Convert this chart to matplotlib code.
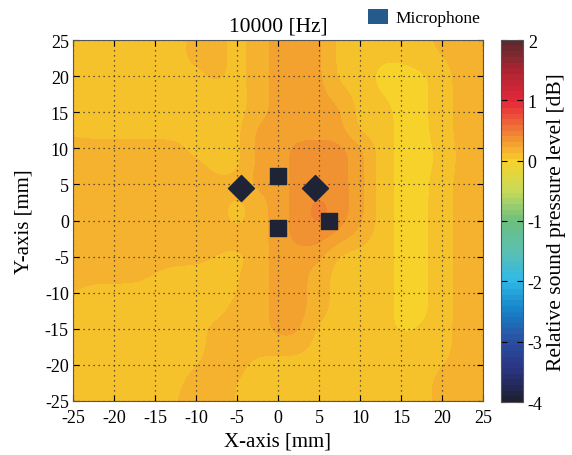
import numpy as np
import matplotlib
matplotlib.use('Agg')
import matplotlib.pyplot as plt
from matplotlib.colors import LinearSegmentedColormap
from matplotlib.patches import Patch

plt.rcParams['font.family'] = ['Liberation Serif', 'DejaVu Serif']
plt.rcParams['axes.unicode_minus'] = False

# grid positions [mm]
x_mm = [-25, -22.5, -20, -17.5, -15, -12.5, -10, -7.5, -5, -2.5, 0,
        2.5, 5, 7.5, 10, 12.5, 15, 17.5, 20, 22.5, 25]
y_mm = [25, 22.5, 20, 17.5, 15, 12.5, 10, 7.5, 5, 2.5, 0,
        -2.5, -5, -7.5, -10, -12.5, -15, -17.5, -20, -22.5, -25]

# relative sound pressure level [dB] (rows = y_mm, cols = x_mm)
spl_db = [
    [.08, .08, .08, .08, .08, .08, .17, .17, .08, .17, .26, .26, .26, .08, .08, .08, .08, .08, .17, .17, .17],
    [.08, .08, .08, .08, .08, .08, .17, .17, .08, .17, .26, .26, .26, .08, .08, .04, .04, .08, .12, .17, .17],
    [.08, .08, .08, .08, .08, .08, .08, .17, .08, .17, .26, .26, .26, .08, .08, .00, .00, .00, .08, .17, .17],
    [.08, .08, .08, .08, .08, .08, .08, .08, .08, .17, .26, .26, .26, .17, .08, .03, .00, .00, .08, .17, .17],
    [.08, .08, .08, .08, .08, .08, .08, .08, .08, .17, .26, .26, .26, .26, .08, .08, .00, .00, .08, .17, .17],
    [.10, .08, .08, .08, .08, .08, .08, .08, .08, .26, .26, .26, .26, .26, .08, .08, .00, .00, .08, .17, .17],
    [.17, .17, .17, .17, .17, .17, .08, .08, .08, .26, .26, .36, .36, .36, .26, .08, .00, .00, .05, .17, .17],
    [.17, .17, .17, .17, .17, .17, .17, .08, .08, .26, .26, .36, .36, .36, .26, .08, .00, .00, .05, .17, .17],
    [.17, .17, .17, .17, .17, .17, .17, .17, .17, .26, .26, .36, .36, .36, .26, .08, .00, .00, .08, .17, .17],
    [.17, .17, .17, .17, .17, .17, .17, .17, .08, .17, .26, .36, .45, .36, .26, .08, .00, .00, .08, .17, .17],
    [.17, .17, .17, .17, .17, .17, .17, .17, .08, .17, .26, .36, .45, .36, .26, .08, .00, .00, .08, .17, .17],
    [.17, .17, .17, .17, .17, .17, .17, .17, .17, .17, .26, .36, .36, .26, .17, .08, .00, .00, .08, .17, .17],
    [.17, .17, .17, .17, .17, .17, .17, .12, .08, .17, .26, .26, .26, .08, .08, .08, .00, .00, .08, .17, .17],
    [.17, .17, .17, .17, .12, .08, .08, .08, .12, .17, .26, .26, .17, .08, .08, .08, .00, .00, .08, .17, .17],
    [.13, .08, .08, .08, .08, .08, .08, .08, .12, .17, .26, .26, .17, .08, .08, .08, .00, .00, .08, .17, .17],
    [.08, .08, .08, .08, .08, .08, .08, .08, .17, .17, .26, .26, .17, .08, .08, .08, .00, .00, .08, .17, .17],
    [.08, .08, .08, .08, .08, .08, .08, .17, .17, .17, .26, .26, .08, .08, .08, .08, .00, .04, .08, .17, .17],
    [.08, .08, .08, .08, .08, .08, .08, .17, .17, .17, .17, .17, .08, .08, .08, .08, .08, .08, .08, .17, .17],
    [.08, .08, .08, .08, .08, .08, .12, .17, .17, .08, .08, .08, .08, .08, .08, .08, .08, .08, .12, .17, .17],
    [.08, .08, .08, .08, .08, .10, .17, .17, .12, .08, .08, .08, .08, .08, .08, .08, .08, .08, .17, .17, .17],
    [.08, .08, .08, .08, .08, .12, .17, .17, .12, .08, .08, .08, .08, .08, .08, .08, .08, .08, .17, .17, .17],
]

# microphone positions [mm]
mic_sq_x = [0, 0, 6.2]
mic_sq_y = [6.2, -1.0, 0.0]
mic_dm_x = [-4.5, 4.5]
mic_dm_y = [4.5, 4.5]

cbar_ticks = [2, 1, 0, -1, -2, -3, -4]

cmap = LinearSegmentedColormap.from_list('spl', [
    (0.0, '#1e2036'), (1/12, '#2a3482'), (2/12, '#2a50a2'), (3/12, '#1682c8'),
    (4/12, '#30b8e6'), (5/12, '#5cc0b0'), (6/12, '#6cbf80'), (7/12, '#c6da5a'),
    (8/12, '#f7d22a'), (9/12, '#f07e35'), (10/12, '#e6283a'), (11/12, '#b02432'),
    (1.0, '#5e2a2e')], N=64)

fig = plt.figure(figsize=(5.72, 4.56), dpi=100)
ax = fig.add_axes([73/572, 1-402/456, 410/572, 361/456])
cax = fig.add_axes([501/572, 1-403/456, 22/572, 362/456])

data = np.array(spl_db)
dx = (x_mm[1] - x_mm[0]) / 2
dy = (y_mm[0] - y_mm[1]) / 2
im = ax.imshow(data, cmap=cmap, vmin=-4, vmax=2, interpolation='bicubic',
               interpolation_stage='data',
               extent=(x_mm[0]-dx, x_mm[-1]+dx, y_mm[-1]-dy, y_mm[0]+dy),
               aspect='auto', origin='upper')

ax.scatter(mic_sq_x, mic_sq_y, marker='s', s=130, color='#1e2335', zorder=3)
ax.scatter(mic_dm_x, mic_dm_y, marker='D', s=175, color='#1e2335', zorder=3)

ax.set_xlim(-25, 25)
ax.set_ylim(-25, 25)
ticks = np.arange(-25, 26, 5)
ax.set_xticks(ticks)
ax.set_yticks(ticks)
ax.grid(True, color='#333333', linestyle=(0, (1, 3)), linewidth=0.9)
ax.tick_params(direction='in', top=True, right=True, labelsize=13, length=4)
ax.tick_params(axis='x', pad=6)
ax.tick_params(axis='y', pad=3)
for s in ax.spines.values():
    s.set_color('#555555')
ax.set_xlabel('X-axis [mm]', fontsize=15, labelpad=4)
ax.set_ylabel('Y-axis [mm]', fontsize=15, labelpad=8)
ax.set_title('10000 [Hz]', fontsize=15.5, pad=7)

cb = fig.colorbar(im, cax=cax, ticks=cbar_ticks)
cb.ax.tick_params(direction='in', labelsize=13, length=4, left=True, right=True)
cb.outline.set_edgecolor('#555555')
cb.set_label('Relative sound pressure level [dB]', fontsize=15.5, labelpad=3)

fig.legend(handles=[Patch(facecolor='#245a8c', label='Microphone')],
           loc='upper left', bbox_to_anchor=(352/572, 1.012), frameon=False,
           fontsize=12.5, handlelength=1.2, handleheight=0.9, handletextpad=0.4)

fig.savefig('out.png', dpi=100)
